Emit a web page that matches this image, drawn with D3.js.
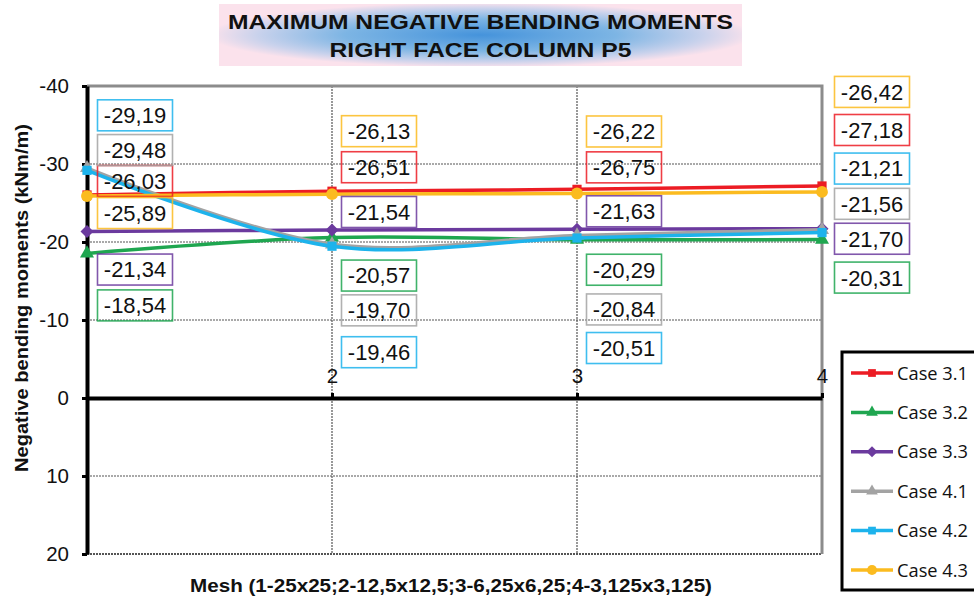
<!DOCTYPE html>
<html>
<head>
<meta charset="utf-8">
<script src="https://cdn.jsdelivr.net/npm/d3@7"></script>
<style>
  body { margin: 0; background: #fff; }
  svg { display: block; }
</style>
</head>
<body>
<svg id="chart" width="974" height="598"></svg>
<script>
// ---- data ----
const meshes = [1, 2, 3, 4];
const seriesNames = ["Case 3.1", "Case 3.2", "Case 3.3", "Case 4.1", "Case 4.2", "Case 4.3"];
const case31 = [-26.03, -26.51, -26.75, -27.18];
const case32 = [-18.54, -20.57, -20.29, -20.31];
const case33 = [-21.34, -21.54, -21.63, -21.70];
const case41 = [-29.48, -19.70, -20.84, -21.56];
const case42 = [-29.19, -19.46, -20.51, -21.21];
const case43 = [-25.89, -26.13, -26.22, -26.42];
const yTicks = [-40, -30, -20, -10, 0, 10, 20];
const xTickLabels = [2, 3, 4];

const titleLines = ["MAXIMUM NEGATIVE BENDING MOMENTS", "RIGHT FACE COLUMN P5"];
const yTitle = "Negative bending moments (kNm/m)";
const xTitle = "Mesh (1-25x25;2-12,5x12,5;3-6,25x6,25;4-3,125x3,125)";

// ---- styling / layout ----
const colors = ["#ec1c24", "#1fa650", "#6b3a9e", "#a3a3a3", "#1db3ec", "#fbbb1f"];
const symbols = ["square", "triangle", "diamond", "triangle", "square", "circle"];
// value-label placement: horizontal shift per mesh, vertical shift per series/mesh (px)
const labelDx = [48, 47, 47, 50];
const labelDy = [
  [-14, -24, -22, -56],
  [52, 38, 30, 38],
  [38, -18, -18, 10],
  [-18, 66, 74, -26],
  [-55, 106, 110, -64],
  [17, -63, -62, -100]
];

const series = [case31, case32, case33, case41, case42, case43].map((vals, i) => ({
  name: seriesNames[i], values: vals, color: colors[i], symbol: symbols[i], dy: labelDy[i]
}));

const svg = d3.select("#chart");
const x = d3.scaleLinear().domain([1, 4]).range([87, 822]);
const y = d3.scaleLinear().domain([-40, 20]).range([86, 554]);
const fmt = v => v.toFixed(2).replace(".", ",");
const arial = "Liberation Sans, Arial, sans-serif";

// ---- grid ----
const grid = svg.append("g");
grid.selectAll("line.h").data(yTicks.filter(t => t !== 0 && t !== -40)).join("line")
  .attr("x1", x(1)).attr("x2", x(4))
  .attr("y1", d => y(d)).attr("y2", d => y(d))
  .attr("stroke", "#555").attr("stroke-width", d => d === 20 ? 2 : 1.2)
  .attr("stroke-dasharray", "2,1");
grid.selectAll("line.v").data([2, 3]).join("line")
  .attr("x1", d => x(d)).attr("x2", d => x(d))
  .attr("y1", y(-40)).attr("y2", y(20))
  .attr("stroke", "#555").attr("stroke-width", 1.2)
  .attr("stroke-dasharray", "2,1");
// plot frame (top and right)
grid.append("path")
  .attr("d", `M${x(1)},${y(-40)}H${x(4)}V${y(20)}`)
  .attr("fill", "none").attr("stroke", "#8c8c8c").attr("stroke-width", 3);

// ---- axes ----
const yAxis = svg.append("g").attr("transform", `translate(${x(1)},0)`)
  .call(d3.axisLeft(y).tickValues(yTicks).tickFormat(d => String(d))
    .tickSize(5).tickSizeOuter(0).tickPadding(13));
yAxis.select(".domain").attr("stroke", "#000").attr("stroke-width", 4);
yAxis.selectAll(".tick line").attr("stroke", "#000").attr("stroke-width", 3);
yAxis.selectAll(".tick text").attr("font-family", arial)
  .attr("font-size", 20.5).attr("fill", "#111");

const xAxis = svg.append("g").attr("transform", `translate(0,${y(0)})`)
  .call(d3.axisTop(x).tickValues(xTickLabels).tickFormat(d => String(d))
    .tickSize(5).tickSizeOuter(0).tickPadding(10));
xAxis.select(".domain").attr("stroke", "#000").attr("stroke-width", 4);
xAxis.selectAll(".tick line").attr("stroke", "#000").attr("stroke-width", 3);
xAxis.selectAll(".tick text").attr("font-family", arial)
  .attr("font-size", 20.5).attr("fill", "#111");

// ---- series ----
const symbolPath = (kind, size) => {
  if (kind === "square" || kind === "diamond") return d3.symbol(d3.symbolSquare, size)();
  if (kind === "triangle") return d3.symbol(d3.symbolTriangle, size)();
  return d3.symbol(d3.symbolCircle, size)();
};
const line = d3.line().x((d, i) => x(meshes[i])).y(d => y(d)).curve(d3.curveCatmullRom.alpha(0.5));

const plot = svg.append("g");
series.forEach(s => {
  const g = plot.append("g");
  g.append("path").attr("d", line(s.values))
    .attr("fill", "none").attr("stroke", s.color).attr("stroke-width", 3.5);
  g.selectAll("path.m").data(s.values).join("path").attr("class", "m")
    .attr("d", symbolPath(s.symbol, s.symbol === "circle" ? 110 : 85))
    .attr("transform", (d, i) => `translate(${x(meshes[i])},${y(d)})` + (s.symbol === "diamond" ? " rotate(45)" : ""))
    .attr("fill", s.color);
});

// ---- value labels ----
const labels = svg.append("g");
series.forEach(s => {
  s.values.forEach((v, i) => {
    const cx = x(meshes[i]) + labelDx[i];
    const cy = y(v) + s.dy[i];
    const g = labels.append("g").attr("transform", `translate(${cx},${cy})`);
    g.append("rect").attr("x", -37.5).attr("y", -15.5).attr("width", 75).attr("height", 31)
      .attr("fill", "none").attr("stroke", s.color).attr("stroke-width", 1.6).attr("stroke-opacity", 0.85);
    g.append("text").attr("text-anchor", "middle").attr("dy", "0.36em")
      .attr("font-family", arial).attr("font-size", 22)
      .attr("fill", "#111").text(fmt(v));
  });
});

// ---- axis titles ----
svg.append("text")
  .attr("transform", `translate(21,${(y(-40) + y(20)) / 2 - 22}) rotate(-90)`)
  .attr("text-anchor", "middle").attr("dy", "0.35em")
  .attr("font-family", arial).attr("font-weight", "bold")
  .attr("font-size", 19).attr("textLength", 348).attr("lengthAdjust", "spacingAndGlyphs")
  .attr("fill", "#111").text(yTitle);
svg.append("text")
  .attr("x", 451).attr("y", 585).attr("text-anchor", "middle").attr("dy", "0.35em")
  .attr("font-family", arial).attr("font-weight", "bold")
  .attr("font-size", 19).attr("textLength", 522).attr("lengthAdjust", "spacingAndGlyphs")
  .attr("fill", "#111").text(xTitle);

// ---- legend ----
const legend = svg.append("g").attr("transform", "translate(842,352)");
legend.append("rect").attr("x", 0).attr("y", 0).attr("width", 140).attr("height", 238)
  .attr("fill", "#fff").attr("stroke", "#000").attr("stroke-width", 3);
series.forEach((s, i) => {
  const gy = 21 + i * 39.4;
  const g = legend.append("g").attr("transform", `translate(0,${gy})`);
  g.append("line").attr("x1", 9).attr("x2", 51).attr("stroke", s.color).attr("stroke-width", 3.5);
  g.append("path").attr("d", symbolPath(s.symbol, s.symbol === "circle" ? 80 : 60))
    .attr("transform", "translate(30,0)" + (s.symbol === "diamond" ? " rotate(45)" : ""))
    .attr("fill", s.color);
  g.append("text").attr("x", 55).attr("dy", "0.35em")
    .attr("font-family", "'Open Sans', sans-serif").attr("font-size", 19)
    .attr("textLength", 71).attr("lengthAdjust", "spacingAndGlyphs")
    .attr("fill", "#111").text(s.name);
});

// ---- title ----
const defs = svg.append("defs");
const grad = defs.append("radialGradient").attr("id", "titleFill")
  .attr("cx", "50%").attr("cy", "50%").attr("r", "52%");
grad.append("stop").attr("offset", "0%").attr("stop-color", "#4593db");
grad.append("stop").attr("offset", "50%").attr("stop-color", "#7db5e4");
grad.append("stop").attr("offset", "82%").attr("stop-color", "#c9d2ec");
grad.append("stop").attr("offset", "100%").attr("stop-color", "#fbe2ec");
svg.append("rect").attr("x", 219).attr("y", 4).attr("width", 523).attr("height", 62)
  .attr("fill", "url(#titleFill)");
titleLines.forEach((t, i) => {
  svg.append("text").attr("x", 480.5).attr("y", 22 + i * 28).attr("dy", "0.35em")
    .attr("text-anchor", "middle")
    .attr("font-family", arial).attr("font-weight", "bold")
    .attr("font-size", 20.5)
    .attr("textLength", i === 0 ? 505 : 302).attr("lengthAdjust", "spacingAndGlyphs")
    .attr("fill", "#111").text(t);
});
</script>
</body>
</html>
